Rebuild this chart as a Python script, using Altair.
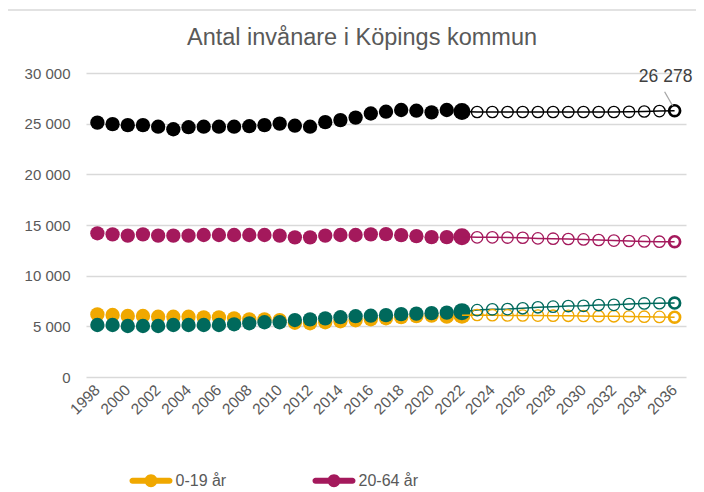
import altair as alt
import pandas as pd

# ---- data ----
years_hist = list(range(1998, 2023))
years_prog = list(range(2023, 2037))
years_all = years_hist + years_prog
tick_years = list(range(1998, 2037, 2))

series_names = ["0-19 år", "20-64 år", "65+ år", "Totalt"]
series_colors = ["#F0A800", "#A4195C", "#00695C", "#000000"]
legend_visible = ["0-19 år", "20-64 år"]

age_0_19_hist = [6180, 6120, 6020, 6020, 5950, 5950, 5950, 5890, 5890, 5790, 5690, 5690, 5620,
                 5350, 5300, 5400, 5500, 5600, 5700, 5800, 5900, 6000, 6050, 5950, 6100]
age_0_19_prog = [6120, 6100, 6080, 6070, 6060, 6050, 6040, 6020, 6000, 5990, 5970, 5950, 5930, 5900]

age_20_64_hist = [14180, 14080, 13950, 14080, 13950, 13950, 13950, 14010, 14010, 14010, 14010, 14010, 13950,
                  13780, 13780, 13950, 14010, 14010, 14080, 14100, 14000, 13900, 13800, 13800, 13850]
age_20_64_prog = [13780, 13780, 13760, 13740, 13680, 13650, 13620, 13580, 13520, 13460, 13420, 13380, 13350, 13350]

age_65_hist = [5130, 5130, 5030, 5030, 5030, 5130, 5130, 5130, 5130, 5200, 5300, 5400, 5400,
               5620, 5690, 5790, 5900, 6000, 6050, 6100, 6200, 6250, 6300, 6350, 6450]
age_65_prog = [6600, 6680, 6700, 6780, 6880, 6940, 7000, 7020, 7100, 7120, 7200, 7260, 7280, 7300]

total_hist = [25100, 24950, 24850, 24850, 24700, 24450, 24650, 24700, 24700, 24700, 24750, 24850, 25000,
              24800, 24700, 25150, 25350, 25600, 26000, 26180, 26350, 26280, 26120, 26350, 26200]
total_prog = [26150, 26150, 26150, 26150, 26150, 26150, 26150, 26150, 26150, 26150, 26170, 26200, 26240, 26278]

y_ticks = [0, 5000, 10000, 15000, 20000, 25000, 30000]
chart_title = "Antal invånare i Köpings kommun"

# ---- long table ----
rows = []
for name, hist, prog in zip(series_names,
                            [age_0_19_hist, age_20_64_hist, age_65_hist, total_hist],
                            [age_0_19_prog, age_20_64_prog, age_65_prog, total_prog]):
    for yr, v in zip(years_all, hist + prog):
        rows.append({"year": yr, "series": name, "value": v})
df = pd.DataFrame(rows)

FONT = "Liberation Sans"
GREY = "#595959"

legend_path = ("M-0.86,-0.14 L0.86,-0.14 A0.14,0.14 0 0,1 0.86,0.14 L-0.86,0.14 "
               "A0.14,0.14 0 0,1 -0.86,-0.14 Z "
               "M0.3,0 A0.3,0.3 0 1,1 -0.3,0 A0.3,0.3 0 1,1 0.3,0 Z")

x_enc = alt.X("year:O",
              scale=alt.Scale(domain=years_all, padding=0.5),
              axis=alt.Axis(values=tick_years, labelAngle=-45, labelAlign="right",
                            labelBaseline="middle", labelPadding=10, labelFontSize=15.5,
                            labelColor=GREY, labelFont=FONT, ticks=False, domain=False,
                            grid=False, title=None))
y_enc = alt.Y("value:Q",
              scale=alt.Scale(domain=[0, 30000], nice=False),
              axis=alt.Axis(values=y_ticks, labelExpr="replace(format(datum.value, ',d'), ',', ' ')",
                            labelFontSize=15, labelColor=GREY, labelFont=FONT, labelPadding=16,
                            ticks=False, domain=False, grid=True, gridColor="#D9D9D9",
                            gridWidth=1.5, title=None))
color_scale = alt.Scale(domain=series_names, range=series_colors)
color_nolegend = alt.Color("series:N", scale=color_scale, legend=None)
color_legend = alt.Color("series:N", scale=color_scale,
                         legend=alt.Legend(orient="none", legendX=43.5, legendY=386,
                                           values=legend_visible,
                                           direction="horizontal", columns=2, columnPadding=86,
                                           title=None, symbolType=legend_path, symbolSize=1849,
                                           symbolStrokeWidth=0, symbolOpacity=1,
                                           labelFontSize=16, labelColor=GREY, labelFont=FONT,
                                           labelOffset=3, padding=0))

base = alt.Chart(df).encode(x=x_enc, y=y_enc)

hist_pts = base.transform_filter("datum.year <= 2021").mark_circle(size=205, opacity=1).encode(color=color_legend)
hist_last = base.transform_filter("datum.year == 2022").mark_circle(size=290, opacity=1).encode(color=color_nolegend)
prog_line = base.transform_filter("datum.year >= 2022").mark_line(strokeWidth=1.5).encode(color=color_nolegend)
prog_pts = base.transform_filter("datum.year >= 2023 && datum.year <= 2035").mark_point(
    filled=False, size=130, strokeWidth=1.3, opacity=1).encode(color=color_nolegend)
prog_last = base.transform_filter("datum.year == 2036").mark_point(
    filled=False, size=120, strokeWidth=2.7, opacity=1).encode(color=color_nolegend)

end_total = base.transform_filter("datum.year == 2036 && datum.series == 'Totalt'")
label = end_total.transform_calculate(
    lbl="replace(format(datum.value, ',d'), ',', ' ')"
).mark_text(dx=-9, dy=-34, fontSize=17.5, font=FONT, color="#404040").encode(text="lbl:N")
leader = end_total.mark_rule(color="#A6A6A6", strokeWidth=1.3, xOffset=-2, yOffset=-5,
                             x2Offset=-10, y2Offset=-19).encode(x2=alt.X2("year"), y2=alt.Y2("value"))

one_row = pd.DataFrame({"title": [chart_title]})
border = alt.Chart(one_row).mark_rect(
    fill=None, stroke="#D9D9D9", strokeWidth=1.5
).encode(x=alt.value(-79), x2=alt.value(800), y=alt.value(-63), y2=alt.value(600))
title_text = alt.Chart(one_row).mark_text(
    fontSize=23.5, font=FONT, color=GREY, align="center", baseline="middle"
).encode(x=alt.value(276), y=alt.value(-35), text="title:N")

chart = alt.layer(border, title_text, hist_pts, hist_last, prog_line, prog_pts, prog_last,
                  leader, label).properties(
    width=600, height=304,
    autosize=alt.AutoSizeParams(type="none"),
    padding={"left": 78, "top": 65, "right": 10, "bottom": 115},
).configure_view(stroke=None)

chart.save("out.html", embed_options={"renderer": "svg", "actions": False})
